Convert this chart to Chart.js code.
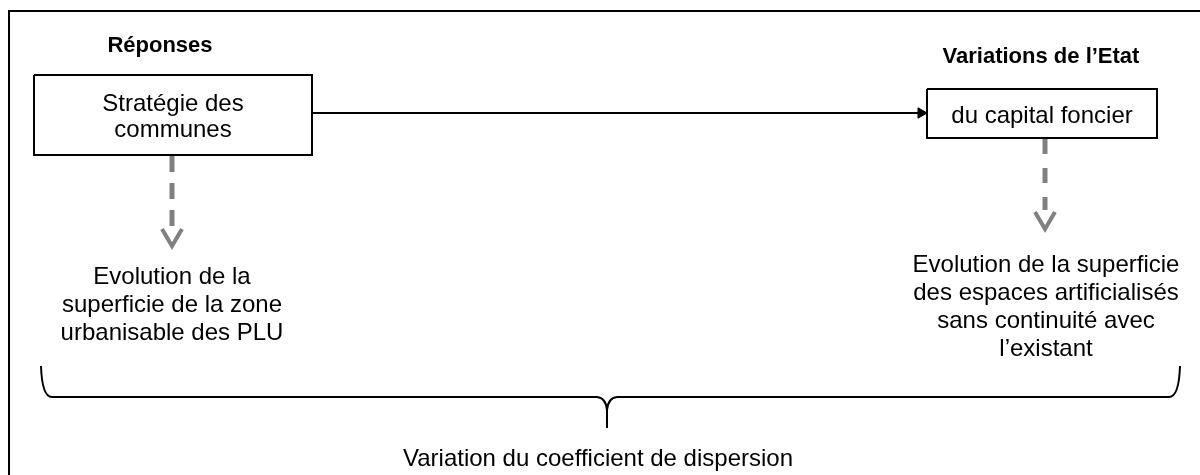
<!DOCTYPE html>
<html lang="fr">
  <head>
    <meta charset="UTF-8" />
    <title>Réponses - Variations de l'Etat</title>
    <script src="https://cdn.jsdelivr.net/npm/chart.js"></script>
    <style>
      html,
      body {
        margin: 0;
        background: #ffffff;
      }
      canvas {
        display: block;
      }
    </style>
  </head>
  <body>
    <canvas id="diagram" width="1200" height="475"></canvas>

    <script>
      // Texts of the diagram
      const headings = ["Réponses", "Variations de l\u2019Etat"];
      const leftBoxLines = ["Stratégie des", "communes"];
      const rightBoxLines = ["du capital foncier"];
      const leftNoteLines = [
        "Evolution de la",
        "superficie de la zone",
        "urbanisable des PLU",
      ];
      const rightNoteLines = [
        "Evolution de la superficie",
        "des espaces artificialisés",
        "sans continuité avec",
        "l\u2019existant",
      ];
      const bottomLabel = ["Variation du coefficient de dispersion"];

      // Layout, in canvas units (x: 0-1200, y: 0-475 from the top)
      const frame = [[9, 475], [9, 11], [1200, 11]];
      const leftBox = { x0: 34, y0: 75, x1: 312, y1: 155 };
      const rightBox = { x0: 927, y0: 89, x1: 1157, y1: 138 };
      const linkY = 113;
      const leftArrowX = 172;
      const rightArrowX = 1045;

      const BLACK = "#000000";
      const GREY = "#808080";
      const FONT = "'Liberation Sans', Arial, sans-serif";

      function toPoints(list) {
        return list.map((p) => ({ x: p[0], y: p[1] }));
      }
      function boxPoints(b) {
        return toPoints([
          [b.x0, b.y0],
          [b.x1, b.y0],
          [b.x1, b.y1],
          [b.x0, b.y1],
          [b.x0, b.y0],
        ]);
      }
      function solid(data, color, width) {
        return {
          data,
          showLine: true,
          borderColor: color,
          borderWidth: width,
          pointRadius: 0,
          fill: false,
        };
      }

      const datasets = [
        solid(toPoints(frame), BLACK, 2),
        solid(boxPoints(leftBox), BLACK, 2),
        solid(boxPoints(rightBox), BLACK, 2),
        // link between the two boxes, arrow head at the right box
        Object.assign(
          solid(toPoints([[leftBox.x1, linkY], [rightBox.x0 - 6, linkY]]), BLACK, 2),
          {
            pointRadius: [0, 6],
            pointStyle: "triangle",
            rotation: 90,
            pointBackgroundColor: BLACK,
            pointBorderColor: BLACK,
            pointBorderWidth: 1,
          }
        ),
        // dashed grey arrows
        Object.assign(
          solid(toPoints([[leftArrowX, leftBox.y1 + 1], [leftArrowX, 228]]), GREY, 5),
          { borderDash: [16, 11], borderCapStyle: "butt" }
        ),
        solid(
          toPoints([[leftArrowX - 10, 229], [leftArrowX, 246], [leftArrowX + 10, 229]]),
          GREY,
          4
        ),
        Object.assign(
          solid(toPoints([[rightArrowX, rightBox.y1 + 1], [rightArrowX, 210]]), GREY, 5),
          { borderDash: [15, 14], borderCapStyle: "butt" }
        ),
        solid(
          toPoints([[rightArrowX - 10, 212], [rightArrowX, 229], [rightArrowX + 10, 212]]),
          GREY,
          4
        ),
      ];

      // Brace and texts, placed through the chart scales
      const diagramPlugin = {
        id: "diagram",
        afterDatasetsDraw(chart) {
          const ctx = chart.ctx;
          const sx = chart.scales.x;
          const sy = chart.scales.y;
          const X = (v) => sx.getPixelForValue(v);
          const Y = (v) => sy.getPixelForValue(v);

          ctx.save();
          // brace
          ctx.strokeStyle = BLACK;
          ctx.lineWidth = 2;
          ctx.beginPath();
          ctx.moveTo(X(41), Y(366));
          ctx.quadraticCurveTo(X(42), Y(397), X(52), Y(397));
          ctx.lineTo(X(597), Y(397));
          ctx.quadraticCurveTo(X(606), Y(398), X(607), Y(410));
          ctx.lineTo(X(607), Y(428));
          ctx.moveTo(X(607), Y(410));
          ctx.quadraticCurveTo(X(608), Y(398), X(617), Y(397));
          ctx.lineTo(X(1169), Y(397));
          ctx.quadraticCurveTo(X(1179), Y(397), X(1180), Y(366));
          ctx.stroke();

          ctx.fillStyle = BLACK;
          ctx.textAlign = "center";
          ctx.textBaseline = "alphabetic";
          function lines(list, cx, firstBaseline, step) {
            list.forEach((t, i) => {
              ctx.fillText(t, X(cx), Y(firstBaseline + i * step));
            });
          }

          ctx.font = "bold 22px " + FONT;
          lines([headings[0]], 160, 52, 0);
          lines([headings[1]], 1041, 63, 0);

          ctx.font = "24px " + FONT;
          lines(leftBoxLines, 173, 111, 26);
          lines(rightBoxLines, 1042, 123, 0);
          lines(leftNoteLines, 172, 284, 28);
          lines(rightNoteLines, 1046, 272, 28);
          lines(bottomLabel, 598, 466, 0);
          ctx.restore();
        },
      };

      new Chart(document.getElementById("diagram"), {
        type: "scatter",
        data: { datasets },
        options: {
          responsive: false,
          animation: false,
          devicePixelRatio: 1,
          layout: { padding: 0, autoPadding: false },
          plugins: {
            legend: { display: false },
            tooltip: { enabled: false },
          },
          scales: {
            x: { type: "linear", min: 0, max: 1200, display: false },
            y: { type: "linear", min: 0, max: 475, reverse: true, display: false },
          },
        },
        plugins: [diagramPlugin],
      });
    </script>
  </body>
</html>
